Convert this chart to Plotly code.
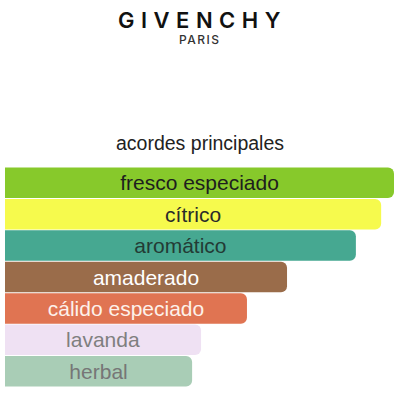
import plotly.graph_objects as go

# acordes principales - GIVENCHY
accords = ["fresco especiado", "cítrico", "aromático", "amaderado",
           "cálido especiado", "lavanda", "herbal"]
values = [100, 96.7, 90.2, 72.5, 62.2, 50.4, 48.1]
bar_colors = ["#87c92b", "#f6fa4d", "#46a891", "#9a6c4a",
              "#e07452", "#efe1f3", "#a9cdb6"]
text_colors = ["#1e1e1e", "#2a2a2a", "#233b35", "#ffffff",
               "#fdf1ea", "#7f7f7f", "#767676"]

font_main = "Liberation Sans, Arial, sans-serif"

fig = go.Figure()

fig.add_trace(go.Bar(
    x=values,
    y=accords,
    orientation="h",
    marker=dict(color=bar_colors, line=dict(width=0)),
    text=accords,
    textposition="inside",
    insidetextanchor="middle",
    textangle=0,
    constraintext="none",
    textfont=dict(family=font_main, size=21, color=text_colors),
    hoverinfo="skip",
))

fig.update_layout(
    width=400,
    height=400,
    margin=dict(l=5, r=6, t=167, b=13),
    paper_bgcolor="white",
    plot_bgcolor="white",
    showlegend=False,
    bargap=0.03,
    barcornerradius=6,
    xaxis=dict(range=[0, 100], visible=False, fixedrange=True),
    yaxis=dict(autorange="reversed", visible=False, fixedrange=True),
)

# brand header
fig.add_annotation(
    text='<span style="letter-spacing:6.5px">GIVENCHY</span>',
    x=0.508, xref="paper", y=1.668, yref="paper",
    xanchor="center", yanchor="middle", showarrow=False,
    font=dict(family="Inter, DejaVu Sans, sans-serif", size=22,
              color="#111111", weight=600),
)
fig.add_annotation(
    text='<span style="letter-spacing:1.5px">PARIS</span>',
    x=0.502, xref="paper", y=1.58, yref="paper",
    xanchor="center", yanchor="middle", showarrow=False,
    font=dict(family="Inter, DejaVu Sans, sans-serif", size=12,
              color="#333333", weight=500),
)

# title
fig.add_annotation(
    text="acordes principales",
    x=0.5, xref="paper", y=1.109, yref="paper",
    xanchor="center", yanchor="middle", showarrow=False,
    font=dict(family=font_main, size=19.5, color="#222222"),
)

fig.write_html("out.html",
               config={"displayModeBar": False},
               post_script="document.body.style.margin='0';"
                           "document.body.style.overflow='hidden';")
